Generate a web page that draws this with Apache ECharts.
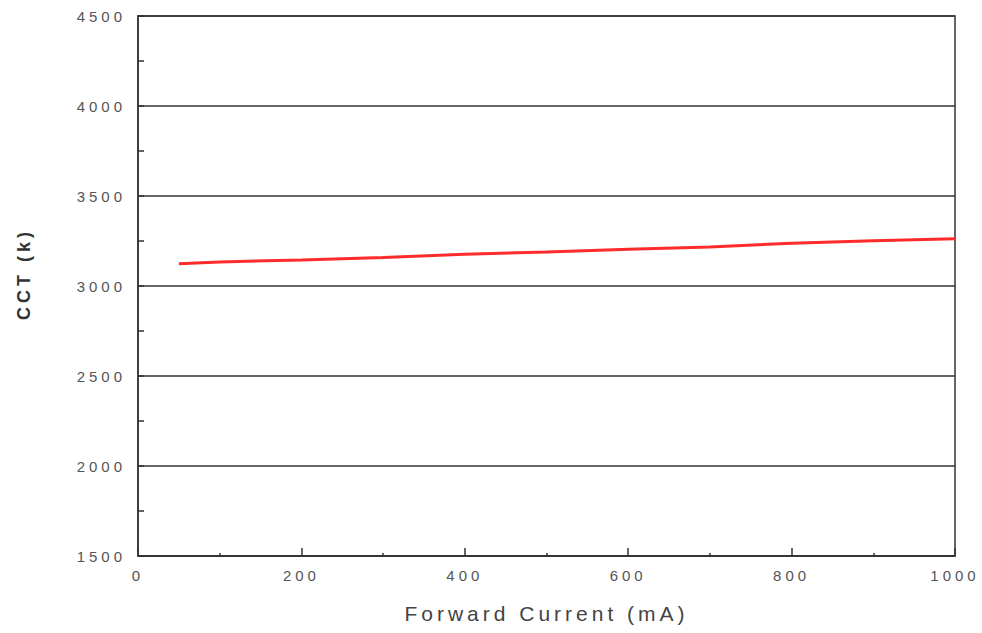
<!DOCTYPE html>
<html>
<head>
<meta charset="utf-8">
<script src="https://cdn.jsdelivr.net/npm/echarts@6/dist/echarts.min.js"></script>
<style>
  html, body { margin: 0; padding: 0; background: #fff; }
  #chart { width: 982px; height: 633px; letter-spacing: 4px; }
</style>
</head>
<body>
<div id="chart"></div>
<script>
// forward current (mA) and CCT (K)
const current = [50, 100, 200, 300, 400, 500, 600, 700, 800, 900, 1000]
const cct = [3124, 3134, 3145, 3158, 3176, 3189, 3204, 3217, 3238, 3252, 3262]

const xTicks = {min: 0, max: 1000, interval: 200}
const yTicks = {min: 1500, max: 4500, interval: 500}

const fontFamily = '"Liberation Sans", Arial, sans-serif'
const axisColor = '#333'

let chart = echarts.init(document.getElementById('chart'), null, {renderer: 'svg'})

chart.setOption({
  animation: false,
  backgroundColor: '#fff',
  grid: {
    left: 138,
    right: 27,
    top: 16,
    bottom: 77,
    show: true,
    borderColor: axisColor,
    borderWidth: 1.5
  },
  xAxis: {
    type: 'value',
    min: xTicks.min,
    max: xTicks.max,
    interval: xTicks.interval,
    name: 'Forward Current (mA)',
    nameLocation: 'middle',
    nameGap: 47,
    nameTextStyle: {
      color: '#444',
      fontSize: 21,
      fontFamily: fontFamily
    },
    axisLine: {
      lineStyle: {color: axisColor, width: 1.5}
    },
    axisTick: {
      inside: true,
      length: 8,
      lineStyle: {color: axisColor, width: 1.5}
    },
    minorTick: {
      show: true,
      splitNumber: 2,
      length: 3,
      lineStyle: {color: axisColor, width: 1.5}
    },
    axisLabel: {
      color: '#555',
      fontSize: 15,
      fontFamily: fontFamily,
      margin: 12,
      formatter: v => String(v)
    },
    splitLine: {show: false}
  },
  yAxis: {
    type: 'value',
    min: yTicks.min,
    max: yTicks.max,
    interval: yTicks.interval,
    name: 'CCT (k)',
    nameLocation: 'middle',
    nameGap: 105,
    nameTextStyle: {
      color: '#333',
      fontSize: 18,
      fontWeight: 'bold',
      fontFamily: fontFamily,
      padding: [0, 0, 0, 24]
    },
    axisLine: {
      show: true,
      lineStyle: {color: axisColor, width: 1.5}
    },
    axisTick: {
      show: true,
      inside: true,
      length: 6,
      lineStyle: {color: axisColor, width: 1.5}
    },
    minorTick: {
      show: true,
      splitNumber: 2,
      length: 6,
      lineStyle: {color: axisColor, width: 1.5}
    },
    axisLabel: {
      color: '#555',
      fontSize: 15,
      fontFamily: fontFamily,
      margin: 12,
      formatter: v => String(v)
    },
    splitLine: {
      show: true,
      lineStyle: {color: axisColor, width: 1.5}
    }
  },
  series: [
    {
      name: 'CCT',
      type: 'line',
      symbol: 'none',
      lineStyle: {color: '#ff2a2a', width: 3},
      data: current.map((c, i) => [c, cct[i]])
    }
  ]
})
</script>
</body>
</html>
